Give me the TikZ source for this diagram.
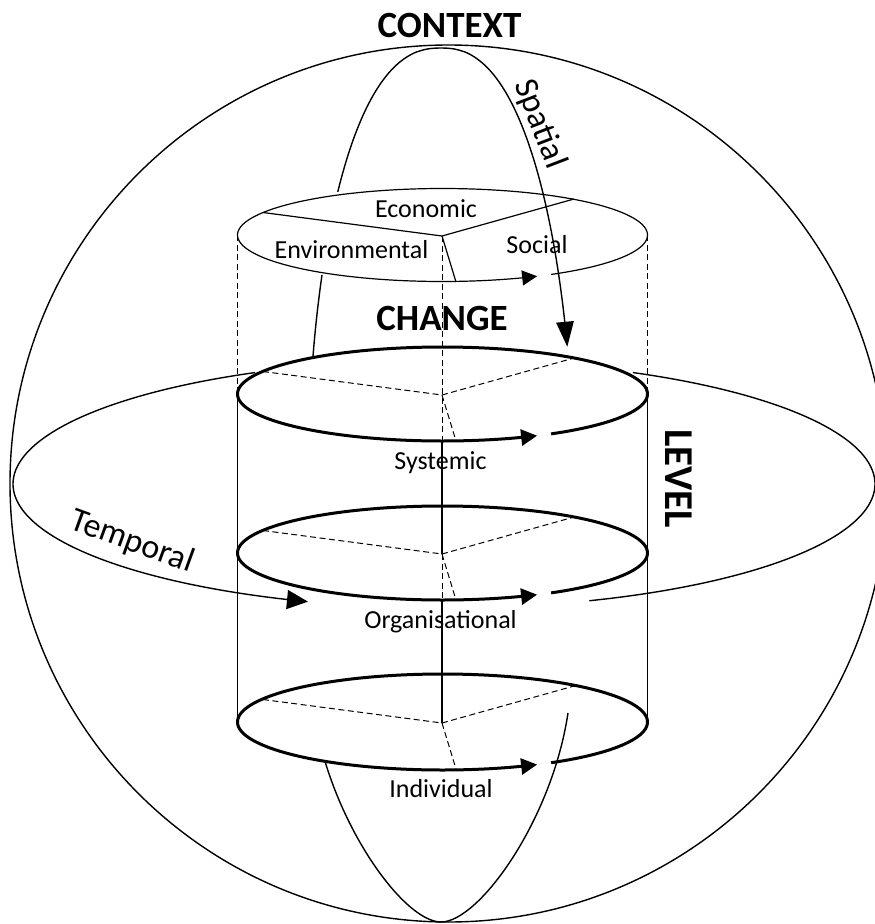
\documentclass[tikz,border=0pt]{standalone}
\usepackage{fontspec}
\setmainfont{Carlito}
\usetikzlibrary{arrows.meta}
\tikzset{
  thinline/.style={line width=1.2pt},
  curveline/.style={line width=1.4pt},
  ringline/.style={line width=3pt},
  dashline/.style={line width=1pt, dash pattern=on 6pt off 3.5pt},
  lbl/.style={font=\fontsize{26}{30}\selectfont, inner sep=0pt, anchor=base},
  ttl/.style={font=\fontsize{37}{42}\selectfont\bfseries, inner sep=0pt},
  dimlbl/.style={font=\fontsize{34}{38}\selectfont, inner sep=0pt},
}
% ring with a gap and an arrow at the front right: #1 centre y, #2 y radius, #3 style, #4 arrow size
\newcommand\drawring[4]{%
  \draw[#3, -{Triangle[length=#4pt,width=#4pt]}] plot[domain=-58:297.5, samples=220]
    ({442.5+205*cos(\x)},{#1-#2*sin(\x)});
}
% three spokes of a disk: #1 centre y, #2 style
\newcommand\drawspokes[2]{%
  \coordinate (sc#1) at (442,#1+1);
  \coordinate (sl#1) at (263,#1-22.5);
  \coordinate (sr#1) at (574,#1-36);
  \coordinate (sb#1) at (456,#1+47);
  \draw[#2] (sl#1) -- (sc#1) -- (sr#1);
  \draw[#2] (sc#1) -- (sb#1);
}
\begin{document}
\begin{tikzpicture}[x=1pt,y=-1pt]
\useasboundingbox (0,0) rectangle (875,924);
\clip (0,0) rectangle (875,924);

% context sphere
\draw[curveline] (448.5,483.5) circle[radius=438.5pt];

% temporal loop: left part (with arrow) and right part
\draw[curveline, -{Triangle[length=21pt,width=19pt]}]
  plot[domain=116:251.6, samples=120] ({444+431*cos(\x)},{484-124*sin(\x)});
\draw[curveline]
  plot[domain=-70.3:64, samples=120] ({444+431*cos(\x)},{484-124*sin(\x)});

% spatial loop: top part with arrow, left piece, bottom part
\draw[curveline, -{Triangle[length=25pt,width=17.5pt]}]
  plot[domain=137.9:90.5, samples=60] ({441-133*pow(abs(cos(\x)),0.85)},{484.5-436.5*sin(\x)})
  -- plot[domain=89.5:18.4, samples=90] ({441+(130+3*(1-sin(\x)))*pow(abs(cos(\x)),0.85)},{484.5-436.5*sin(\x)});
\draw[curveline] plot[domain=151.3:163, samples=15] ({441-133*pow(abs(cos(\x)),0.85)},{484.5-436.5*sin(\x)});
\coordinate (vr) at (568,713);
\coordinate (vb) at (441,922);
\coordinate (vl) at (314,713);
\draw[curveline] (vr) .. controls (552,820) and (479,922) .. (vb);
\begin{scope}
  \clip (290,762) rectangle (441.5,930);
  \draw[curveline] (vb) .. controls (403,922) and (330,820) .. (vl);
\end{scope}

% cylinder walls
\coordinate (tl) at (237.5,235);
\coordinate (tr) at (647.5,235);
\coordinate (ml) at (237.5,394);
\coordinate (mr) at (647.5,394);
\coordinate (bl) at (237.5,722);
\coordinate (br) at (647.5,722);
\draw[dashline] (tl) -- (ml);
\draw[dashline] (tr) -- (mr);
\draw[thinline] (ml) -- (bl);
\draw[thinline] (mr) -- (br);

% disks
\drawring{235}{46.5}{thinline}{15}
\drawring{394}{47}{ringline}{16}
\drawring{553}{47}{ringline}{16}
\drawring{722}{48}{ringline}{16}

\drawspokes{235}{thinline}
\drawspokes{394}{dashline}
\drawspokes{553}{dashline}
\drawspokes{722}{dashline}

% central axis
\coordinate (a1) at (442,441);
\coordinate (a2) at (442,600);
\draw[dashline] (sc235) -- (a1);
\draw[thinline] (a1) -- (sc553);
\draw[dashline] (sc553) -- (a2);
\draw[thinline] (a2) -- (sc722);

% labels
\node[ttl, anchor=base] (context) at (449.5,37) {CONTEXT};
\node[ttl, anchor=base] (change) at (442,330) {CHANGE};
\node[ttl, font=\fontsize{41}{46}\selectfont\bfseries, rotate=-90] (level) at (679,478.5) {LEVEL};
\node[dimlbl, rotate=-69] (spatial) at (540,124) {Spatial};
\node[dimlbl, rotate=-20] (temporal) at (132,542) {Temporal};
\node[lbl] (economic) at (426,217) {Economic};
\node[lbl] (environmental) at (351.5,258) {Environmental};
\node[lbl] (social) at (537,253) {Social};
\node[lbl] (systemic) at (440.5,469) {Systemic};
\node[lbl] (organisational) at (440.5,628) {Organisational};
\node[lbl] (individual) at (441,797) {Individual};
\end{tikzpicture}
\end{document}
